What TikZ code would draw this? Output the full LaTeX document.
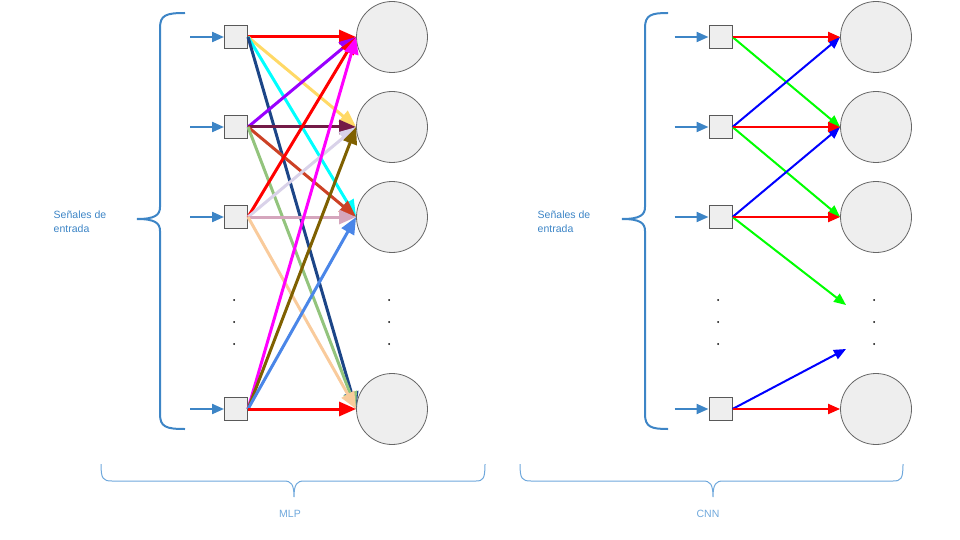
\documentclass[tikz,border=0pt]{standalone}
\usepackage{fontspec}
\setmainfont{Liberation Sans}
\usetikzlibrary{arrows.meta}
\usetikzlibrary{positioning}

\definecolor{cellgray}{HTML}{EEEEEE}
\definecolor{boxgray}{HTML}{595959}
\definecolor{ringgray}{HTML}{666666}
\definecolor{feedblue}{HTML}{3D85C6}
\definecolor{notablue}{HTML}{6FA8DC}
\definecolor{gold}{HTML}{FFD966}
\definecolor{aqua}{HTML}{00FFFF}
\definecolor{navy}{HTML}{1C4587}
\definecolor{grape}{HTML}{9900FF}
\definecolor{maroon}{HTML}{741B47}
\definecolor{rust}{HTML}{CC4125}
\definecolor{sage}{HTML}{93C47D}
\definecolor{lavender}{HTML}{D9D2E9}
\definecolor{rose}{HTML}{D5A6BD}
\definecolor{peach}{HTML}{F9CB9C}
\definecolor{fuchsia}{HTML}{FF00FF}
\definecolor{olivebrown}{HTML}{7F6000}
\definecolor{cornflower}{HTML}{4A86E8}

\begin{document}
\begin{tikzpicture}[x=1pt, y=-1pt, node distance={90pt}, thick,
    inp/.style = {draw=boxgray, fill=cellgray, minimum size=23pt, inner sep=0pt, line width=1pt},
    neu/.style = {draw=ringgray, fill=cellgray, circle, minimum size=71pt, inner sep=0pt, line width=0.8pt},
    feed/.style = {draw=feedblue, line width=2.2pt, -{Triangle[length=12pt,width=10pt]}},
    full/.style = {line width=3pt, -{Triangle[length=17pt,width=14pt]}},
    conv/.style = {line width=2pt, -{Triangle[length=12pt,width=10pt]}},
    curl/.style = {draw=feedblue, line width=2pt},
    span/.style = {draw=notablue, line width=1pt},
    lbl/.style = {font=\fontsize{10.5}{14}\selectfont, text=feedblue, align=left, anchor=west},
    tag/.style = {font=\fontsize{10.5}{13}\selectfont, text=notablue}]
\useasboundingbox (0,0) rectangle (960,540);

% MLP
\node[inp] (m1) at (236,37) {};
\node[inp] (m2) [below of = m1] {};
\node[inp] (m3) [below of = m2] {};
\node[inp] (m4) [below of = m3, node distance=192pt] {};
\node[neu] (n1) [right of = m1, node distance=156pt] {};
\node[neu] (n2) [right of = m2, node distance=156pt] {};
\node[neu] (n3) [right of = m3, node distance=156pt] {};
\node[neu] (n4) [right of = m4, node distance=156pt] {};
\node[coordinate] (t1) [left of = m1, node distance=46pt] {};
\node[coordinate] (t2) [left of = m2, node distance=46pt] {};
\node[coordinate] (t3) [left of = m3, node distance=46pt] {};
\node[coordinate] (t4) [left of = m4, node distance=46pt] {};
\draw[feed] (t1) -- (m1.west);
\draw[feed] (t2) -- (m2.west);
\draw[feed] (t3) -- (m3.west);
\draw[feed] (t4) -- (m4.west);

\path [full, red] (m1.east) edge (n1.west);
\path [full, gold] (m1.east) edge (n2.west);
\path [full, aqua] (m1.east) edge (n3.west);
\path [full, navy] (m1.east) edge (n4.west);
\path [full, grape] (m2.east) edge (n1.west);
\path [full, maroon] (m2.east) edge (n2.west);
\path [full, rust] (m2.east) edge (n3.west);
\path [full, sage] (m2.east) edge (n4.west);
\path [full, red] (m3.east) edge (n1.west);
\path [full, lavender] (m3.east) edge (n2.west);
\path [full, rose] (m3.east) edge (n3.west);
\path [full, peach] (m3.east) edge (n4.west);
\path [full, fuchsia] (m4.east) edge (n1.west);
\path [full, olivebrown] (m4.east) edge (n2.west);
\path [full, cornflower] (m4.east) edge (n3.west);
\path [full, red] (m4.east) edge (n4.west);

\fill (234,300) circle (1pt) (234,322) circle (1pt) (234,344) circle (1pt);
\fill (389,300) circle (1pt) (389,322) circle (1pt) (389,344) circle (1pt);

\draw[curl] (185,13) .. controls (166,13) and (160,15) .. (160,28) -- (160,207)
  .. controls (160,215) and (155,219) .. (137,219) .. controls (155,219) and (160,223) .. (160,231)
  -- (160,414) .. controls (160,427) and (166,429) .. (185,429);
\node[lbl] (s1) at (50,222) {Señales de\\entrada};

\draw[span] (101,464) .. controls (101,479) and (103,481) .. (112,481) -- (284,481)
  .. controls (291,481) and (294,484) .. (294,497) .. controls (294,484) and (297,481) .. (304,481)
  -- (476,481) .. controls (483,481) and (485,479) .. (485,464);
\node[tag] (l1) at (290,514) {MLP};

% CNN
\node[inp] (p1) at (720.5,37) {};
\node[inp] (p2) [below of = p1] {};
\node[inp] (p3) [below of = p2] {};
\node[inp] (p4) [below of = p3, node distance=192pt] {};
\node[neu] (q1) [right of = p1, node distance=155.5pt] {};
\node[neu] (q2) [right of = p2, node distance=155.5pt] {};
\node[neu] (q3) [right of = p3, node distance=155.5pt] {};
\node[neu] (q4) [right of = p4, node distance=155.5pt] {};
\node[coordinate] (u1) [left of = p1, node distance=46pt] {};
\node[coordinate] (u2) [left of = p2, node distance=46pt] {};
\node[coordinate] (u3) [left of = p3, node distance=46pt] {};
\node[coordinate] (u4) [left of = p4, node distance=46pt] {};
\coordinate (g1) at (846,305);
\coordinate (g2) at (846,349);
\draw[feed] (u1) -- (p1.west);
\draw[feed] (u2) -- (p2.west);
\draw[feed] (u3) -- (p3.west);
\draw[feed] (u4) -- (p4.west);

\path [conv, green] (p1.east) edge (q2.west);
\path [conv, green] (p2.east) edge (q3.west);
\path [conv, green] (p3.east) edge (g1);
\path [conv, blue] (p2.east) edge (q1.west);
\path [conv, blue] (p3.east) edge (q2.west);
\path [conv, blue] (p4.east) edge (g2);
\path [conv, red] (p1.east) edge (q1.west);
\path [conv, red] (p2.east) edge (q2.west);
\path [conv, red] (p3.east) edge (q3.west);
\path [conv, red] (p4.east) edge (q4.west);

\fill (718,300) circle (1pt) (718,322) circle (1pt) (718,344) circle (1pt);
\fill (874,300) circle (1pt) (874,322) circle (1pt) (874,344) circle (1pt);

\draw[curl] (668,13) .. controls (651,13) and (645,15) .. (645,28) -- (645,207)
  .. controls (645,215) and (640,219) .. (622,219) .. controls (640,219) and (645,223) .. (645,231)
  -- (645,414) .. controls (645,427) and (651,429) .. (668,429);
\node[lbl] (s2) at (534,222) {Señales de\\entrada};

\draw[span] (520,464) .. controls (520,479) and (522,481) .. (531,481) -- (703,481)
  .. controls (710,481) and (713,484) .. (713,497) .. controls (713,484) and (716,481) .. (723,481)
  -- (893,481) .. controls (901,481) and (903,479) .. (903,464);
\node[tag] (l2) at (708,514) {CNN};
\end{tikzpicture}
\end{document}
